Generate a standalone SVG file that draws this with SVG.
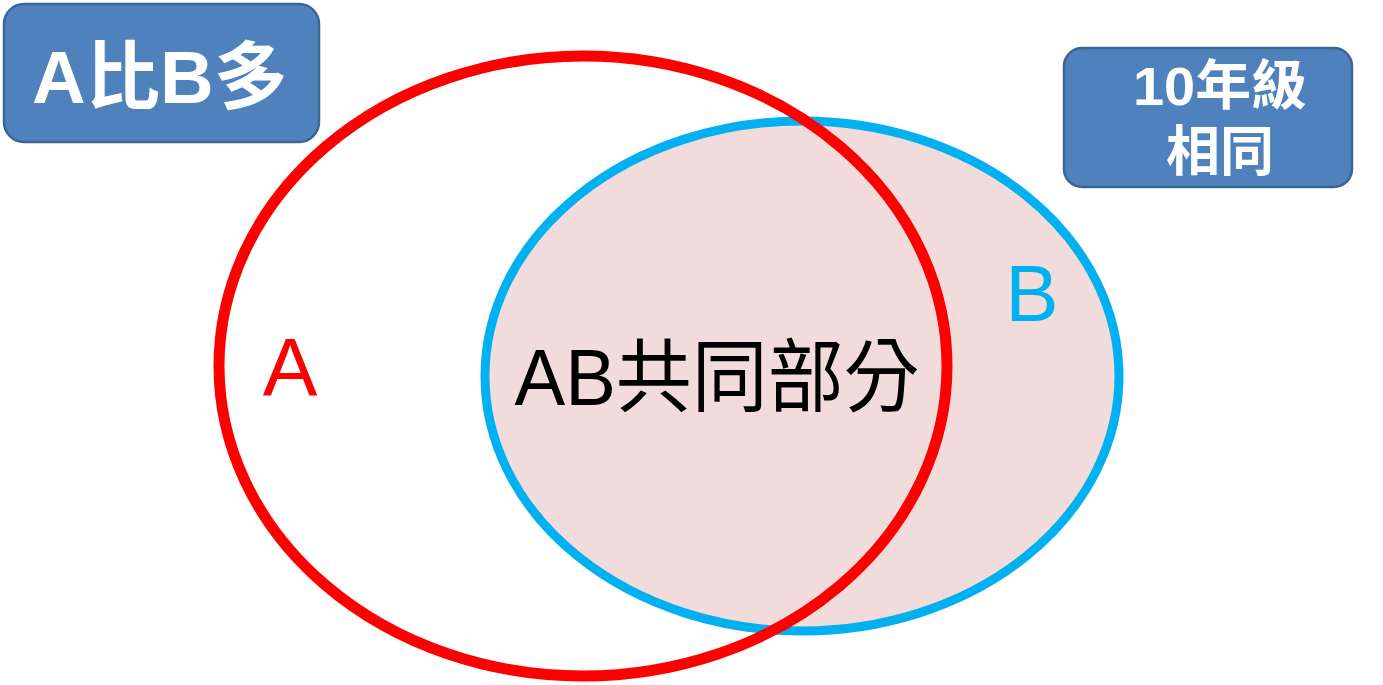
<svg xmlns="http://www.w3.org/2000/svg" width="1383" height="685" viewBox="0 0 1383 685">
<style>
.box{fill:#4f81bd;stroke:#3a6594;stroke-width:2.5}
.wt{fill:#ffffff;font-family:"Liberation Sans","Noto Sans CJK TC",sans-serif;font-weight:bold}
.lbl{font-family:"Liberation Sans","Noto Sans CJK TC",sans-serif}
</style>
<rect width="1383" height="685" fill="#ffffff"/>
<g id="setB">
<ellipse cx="802" cy="376" rx="317" ry="255" fill="#f2dcdb" stroke="#00b0f0" stroke-width="9"/>
<text class="lbl" x="1032" y="321" font-size="80" fill="#00b0f0" text-anchor="middle">B</text>
</g>
<g id="setA">
<ellipse cx="583" cy="366" rx="364" ry="310" fill="none" stroke="#ff0000" stroke-width="11"/>
<text class="lbl" x="290" y="395" font-size="82" fill="#ff0000" text-anchor="middle">A</text>
</g>
<g id="intersection">
<text class="lbl" x="717" y="405" font-size="80" fill="#000000" text-anchor="middle" textLength="405" lengthAdjust="spacingAndGlyphs">AB共同部分</text>
</g>
<g id="box1">
<rect class="box" x="4" y="4" width="315" height="138" rx="20"/>
<text class="wt" x="160" y="103" font-size="74" text-anchor="middle" textLength="256" lengthAdjust="spacingAndGlyphs">A比B多</text>
</g>
<g id="box2">
<rect class="box" x="1064" y="48" width="288" height="139" rx="18"/>
<text class="wt" x="1220" y="105" font-size="54" text-anchor="middle" textLength="174" lengthAdjust="spacingAndGlyphs">10年級</text>
<text class="wt" x="1220" y="171" font-size="54" text-anchor="middle">相同</text>
</g>
<g id="connectors"></g>
</svg>
